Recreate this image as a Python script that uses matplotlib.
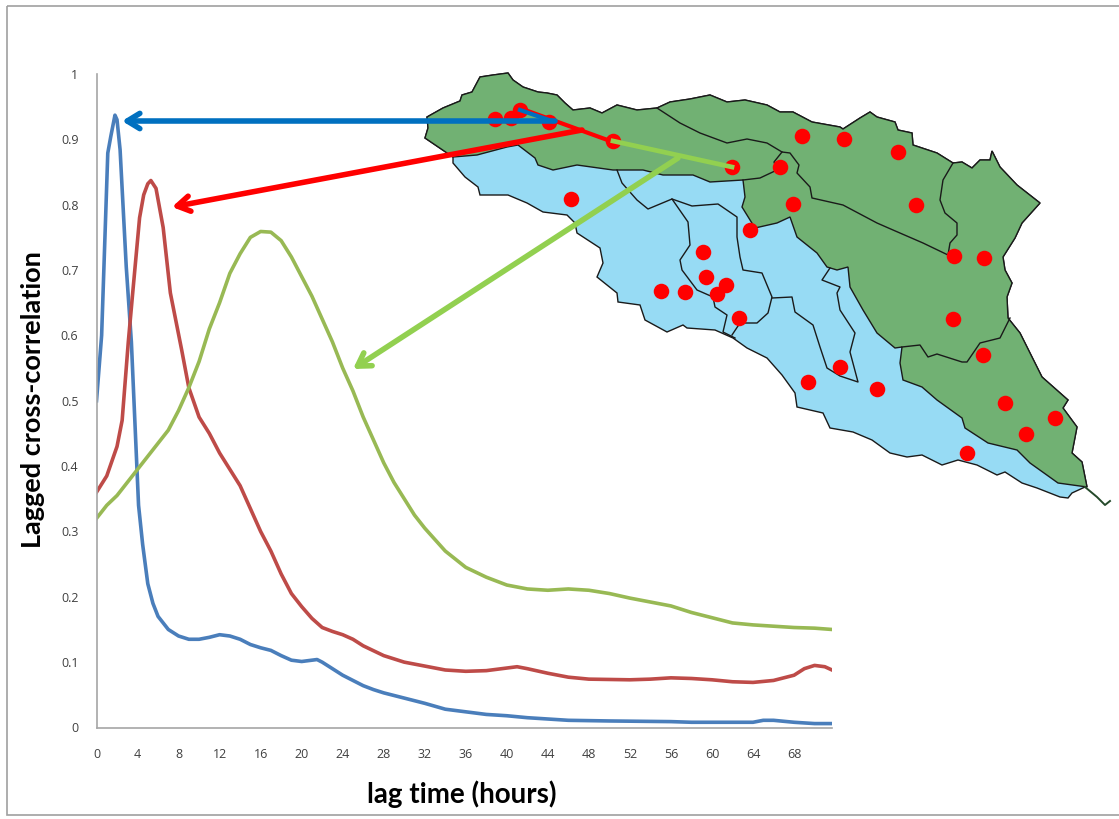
import matplotlib
matplotlib.use('Agg')
import matplotlib.pyplot as plt
from matplotlib.patches import Polygon, Rectangle

# chart values
tick_hours = list(range(0, 69, 4))
tick_corr = [0, 0.1, 0.2, 0.3, 0.4, 0.5, 0.6, 0.7, 0.8, 0.9, 1]
tick_corr_labels = ['0', '0.1', '0.2', '0.3', '0.4', '0.5', '0.6', '0.7', '0.8', '0.9', '1']

blue_x = [0, 0.5, 1.1, 1.4, 1.8, 2.0, 2.3, 2.9, 3.4, 4.1, 4.5, 5, 5.5, 6, 7, 8, 9, 10, 11, 12, 13, 14, 15, 16, 17, 18, 19, 20, 21, 21.5,
          22, 23, 24, 25, 26, 27, 28, 30, 32, 34, 36, 38, 40, 42, 44, 46, 50, 56, 58, 64, 65, 66, 68, 70, 71.7]
blue_y = [0.50, 0.60, 0.879, 0.905, 0.937, 0.93, 0.884, 0.705, 0.59, 0.34, 0.28, 0.22, 0.19, 0.17, 0.15, 0.14, 0.135, 0.135, 0.138, 0.142, 0.14, 0.135, 0.127, 0.122, 0.118, 0.11, 0.103, 0.101, 0.103, 0.104,
          0.10, 0.09, 0.08, 0.072, 0.064, 0.058, 0.053, 0.045, 0.037, 0.028, 0.024, 0.02, 0.018, 0.015, 0.013, 0.011, 0.01, 0.009, 0.008, 0.008, 0.011, 0.011, 0.008, 0.006, 0.006]

red_x = [0, 1, 2, 2.5, 3.1, 3.5, 4.2, 4.6, 5, 5.3, 5.8, 6.5, 7.2, 8.3, 9, 10, 11, 12, 13, 14, 15, 16, 17, 18, 19, 20, 21, 22, 23, 24, 25, 26, 28,
         30, 32, 34, 36, 38, 40, 41, 42, 44, 46, 48, 52, 54, 56, 58, 60, 62, 64, 66, 68, 69, 70, 71, 71.7]
red_y = [0.36, 0.385, 0.43, 0.47, 0.59, 0.66, 0.78, 0.815, 0.832, 0.837, 0.825, 0.765, 0.665, 0.578, 0.52, 0.475, 0.45, 0.42, 0.395, 0.37, 0.335, 0.30, 0.27, 0.235, 0.205, 0.185, 0.167, 0.153, 0.147, 0.142, 0.135, 0.125, 0.11,
         0.10, 0.094, 0.088, 0.086, 0.087, 0.091, 0.093, 0.09, 0.083, 0.077, 0.074, 0.073, 0.074, 0.076, 0.075, 0.073, 0.07, 0.069, 0.072, 0.08, 0.09, 0.095, 0.093, 0.088]

green_x = [0, 1, 2, 3, 4, 5, 6, 7, 8, 9, 10, 11, 12, 13, 14, 15, 16, 17, 18, 19, 20, 21, 22, 23, 24, 25, 26, 27, 28, 29, 30, 31, 32,
           34, 36, 38, 40, 42, 44, 46, 48, 50, 52, 54, 56, 58, 60, 62, 64, 66, 68, 70, 71.7]
green_y = [0.32, 0.34, 0.355, 0.375, 0.395, 0.415, 0.435, 0.455, 0.485, 0.52, 0.56, 0.61, 0.65, 0.695, 0.725, 0.75, 0.759, 0.758, 0.745, 0.72, 0.69, 0.66, 0.625, 0.59, 0.55, 0.515, 0.475, 0.44, 0.405, 0.375, 0.35, 0.325, 0.305,
           0.27, 0.245, 0.23, 0.218, 0.212, 0.21, 0.212, 0.21, 0.205, 0.198, 0.192, 0.186, 0.176, 0.168, 0.16, 0.157, 0.155, 0.153, 0.152, 0.15]

# map, in image pixels
north_edge = [(425, 138), (428, 128), (427, 117), (443, 108), (460, 101), (462, 95), (472, 92), (480, 77), (493, 75), (508, 73), (513, 80), (523, 87), (538, 92), (547, 93), (557, 95),
              (565, 103), (573, 110), (590, 108), (602, 113), (617, 105), (637, 110), (657, 108), (670, 102), (690, 99), (710, 95), (727, 102), (745, 100), (767, 105), (780, 112), (793, 112),
              (812, 122), (840, 127), (843, 129), (860, 118), (870, 112), (877, 117), (895, 122), (898, 130), (912, 133), (913, 145), (937, 153),
              (953, 163), (962, 162), (972, 168), (980, 160), (990, 160), (992, 151), (1000, 167), (1017, 185), (1040, 203), (1022, 223), (1015, 238),
              (1003, 257), (1005, 270), (1012, 283), (1007, 297), (1008, 318), (1020, 333), (1030, 353), (1042, 377), (1068, 400), (1063, 408),
              (1077, 427), (1072, 453), (1082, 462), (1087, 487)]
south_edge = [(1085, 487), (1072, 493), (1068, 498), (1060, 497), (1037, 488), (1022, 483), (1005, 472), (997, 475), (977, 465), (958, 460), (942, 465),
              (922, 455), (907, 457), (890, 453), (872, 440), (853, 432), (830, 428), (823, 413), (797, 407), (795, 393), (782, 375), (767, 358),
              (747, 348), (733, 338), (715, 330), (687, 328), (683, 325), (667, 332), (645, 320), (640, 305), (618, 302), (617, 293), (597, 277),
              (603, 263), (600, 248), (577, 233), (575, 223), (567, 215), (543, 212), (527, 203), (508, 195), (480, 195), (478, 187), (465, 177), (453, 163), (453, 157)]
green_blue_edge = [(1087, 487), (1058, 483), (1030, 463), (1017, 450), (988, 443), (965, 428), (962, 418), (937, 400), (922, 387), (903, 380), (900, 363), (902, 347),
                   (895, 348), (877, 333), (863, 310), (850, 287), (848, 267), (837, 270), (827, 267), (817, 253), (797, 237), (790, 217), (777, 223), (755, 228),
                   (742, 207), (745, 197), (743, 180), (710, 182), (693, 175), (663, 175), (643, 170), (613, 170), (577, 165), (553, 170), (538, 165), (535, 158),
                   (518, 145), (507, 147), (477, 155), (453, 157)]
river_tail = [(1085, 487), (1097, 497), (1105, 505), (1110, 501)]

inner_lines = [
    [(657, 108), (680, 123), (700, 133), (727, 143), (747, 139), (767, 143), (782, 152), (790, 153), (799, 165), (797, 173), (810, 187), (812, 198),
     (843, 205), (877, 223), (893, 230), (923, 243), (948, 255)],
    [(782, 152), (774, 162), (777, 170), (760, 178), (743, 180)],
    [(953, 163), (943, 180), (940, 200), (945, 213), (957, 223), (957, 235), (950, 243), (948, 255)],
    [(902, 347), (920, 345), (928, 357), (937, 354), (962, 362), (967, 362), (980, 343), (1000, 338), (1010, 318)],
    [(617, 170), (622, 183), (637, 200), (648, 209), (672, 199), (688, 222), (690, 245), (680, 260), (682, 270), (697, 290), (713, 297), (715, 307),
     (727, 315), (723, 332), (735, 338)],
    [(672, 199), (692, 206), (718, 204), (737, 217), (737, 237), (740, 257), (743, 270), (762, 273), (772, 297), (768, 313), (757, 323), (740, 323), (732, 335)],
    [(772, 298), (792, 297), (795, 312), (813, 325), (820, 347), (827, 368), (840, 376), (858, 382), (850, 352), (855, 333), (840, 310), (837, 293), (840, 287),
     (822, 280), (830, 268)],
]

gauge_x = [495, 511, 520, 549, 613, 732, 571, 780, 793, 802, 844, 898, 916, 750, 954, 984, 703, 706, 726, 717, 661, 685, 739, 953, 983, 808, 840, 877, 1005, 1026, 1055, 967]
gauge_y = [119, 118, 110, 122, 141, 167, 199, 167, 204, 136, 139, 152, 205, 230, 256, 258, 252, 277, 285, 294, 291, 292, 318, 319, 355, 382, 367, 389, 403, 434, 418, 453]

W, H = 1119, 819
fig = plt.figure(figsize=(W / 100, H / 100), dpi=100, facecolor='white')

# chart axes sit at pixel box 96.5..832 x 74..727.5
ax = fig.add_axes([96.5 / W, 1 - 727.5 / H, (832 - 96.5) / W, (727.5 - 74) / H])
ax.plot(blue_x, blue_y, color='#4a7ebb', lw=2.6)
ax.plot(red_x, red_y, color='#be4b48', lw=2.6)
ax.plot(green_x, green_y, color='#98b954', lw=2.6)
ax.set_xlim(0, 71.7)
ax.set_ylim(0, 1)
ax.spines['top'].set_visible(False)
ax.spines['right'].set_visible(False)
for side in ['left', 'bottom']:
    ax.spines[side].set_color('#a6a6a6')
    ax.spines[side].set_linewidth(1.2)
ax.set_xticks(tick_hours)
ax.set_yticks(tick_corr)
ax.set_yticklabels(tick_corr_labels)
ax.tick_params(axis='x', length=0, pad=15, labelsize=9, labelcolor='#404040')
ax.tick_params(axis='y', length=0, pad=13, labelsize=9, labelcolor='#404040')
for lab in ax.get_xticklabels() + ax.get_yticklabels():
    lab.set_fontfamily('Open Sans')

# overlay in image pixels for map, arrows, frame and axis titles
top = fig.add_axes([0, 0, 1, 1], facecolor='none')
top.set_xlim(0, W)
top.set_ylim(H, 0)
top.axis('off')

top.add_patch(Rectangle((7, 6), W, 809, fill=False, ec='#a0a0a0', lw=1.2))
top.add_patch(Polygon(north_edge + south_edge, closed=True, fc='#97dbf4', ec='#1a1a1a', lw=1.0, zorder=2))
top.add_patch(Polygon(north_edge + green_blue_edge, closed=True, fc='#71b173', ec='#1a1a1a', lw=1.0, zorder=3))
for line in inner_lines:
    top.plot([p[0] for p in line], [p[1] for p in line], color='#1a1a1a', lw=1.0, zorder=4)
top.plot([p[0] for p in river_tail], [p[1] for p in river_tail], color='#24492a', lw=1.4, zorder=4)
top.scatter(gauge_x, gauge_y, s=125, color='#ff0000', linewidths=0, zorder=5)


def arrow(start, end, color, lw=4):
    top.annotate('', xy=end, xytext=start, zorder=7,
                 arrowprops=dict(arrowstyle='->,head_length=0.9,head_width=0.55', color=color, lw=lw, shrinkA=0, shrinkB=0))


top.plot([525, 613], [110, 142], color='#ff0000', lw=3, zorder=6)
arrow((582, 130), (172, 207), '#ff0000')
top.plot([613, 732], [141, 167], color='#92d050', lw=3.4, zorder=6)
arrow((678, 158), (353, 369), '#92d050')
top.plot([520, 552], [110, 121], color='#0070c0', lw=3, zorder=7)
arrow((555, 121), (122, 121), '#0070c0')

top.text(33, 400, 'Lagged cross-correlation', rotation=90, ha='center', va='center',
         fontsize=19.5, fontweight='bold', family='Lato', color='black')
top.text(462, 794, 'lag time (hours)', ha='center', va='center',
         fontsize=20, fontweight='bold', family='Lato', color='black')

fig.savefig('out.png', dpi=100)
